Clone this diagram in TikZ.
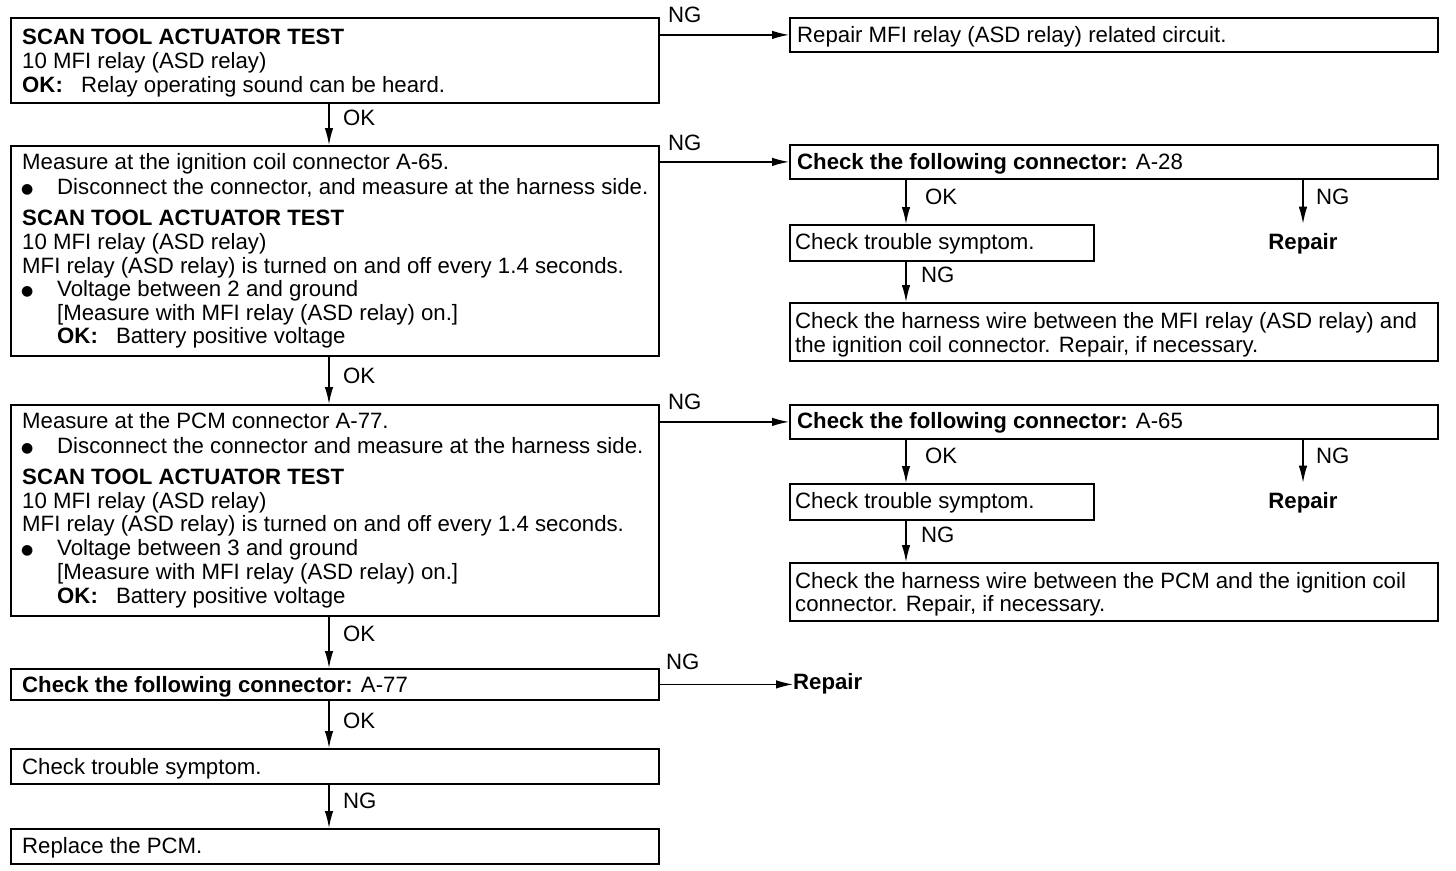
\documentclass[tikz,border=0pt]{standalone}
\usepackage{fontspec}
\setmainfont{Liberation Sans}
\newfontfamily\dvfont{DejaVu Sans}
\usetikzlibrary{arrows.meta}
\newcommand\TLine[4]{\node[txt] (#1) at (#2,#3) {#4};}
\newcommand\BLine[3]{\node[bul] (#1) at (21,#2) {●};}
\begin{document}
\begin{tikzpicture}[x=1pt,y=-1pt,
 box/.style={draw, line width=1.8pt, inner sep=0pt, anchor=north west},
 txt/.style={anchor=base west, inner sep=0pt, font=\fontsize{22.2}{24}\selectfont},
 bul/.style={anchor=base west, inner sep=0pt, font=\dvfont\fontsize{14}{16}\selectfont},
 lbl/.style={anchor=base west, inner sep=0pt, font=\fontsize{22.2}{24}\selectfont},
 rep/.style={anchor=base, inner xsep=0pt, inner ysep=9pt, font=\fontsize{22.2}{24}\selectfont\bfseries},
 arr/.style={line width=1.3pt, -{Latex[length=17pt,width=8.5pt]}},
]
\useasboundingbox (0,0) rectangle (1456,870);
\coordinate (cL) at (329,0);
\coordinate (cR1) at (906,0);
\coordinate (cR2) at (1303,0);

% left column boxes
\node[box, minimum width=648pt, minimum height=85pt] (b1) at (10,17) {};
\node[box, minimum width=648pt, minimum height=210pt] (b2) at (10,145) {};
\node[box, minimum width=648pt, minimum height=211pt] (b3) at (10,404) {};
\node[box, minimum width=648pt, minimum height=31pt] (b4) at (10,668) {};
\node[box, minimum width=648pt, minimum height=35pt] (b5) at (10,748) {};
\node[box, minimum width=648pt, minimum height=35pt] (b6) at (10,828) {};

% right column boxes
\node[box, minimum width=648pt, minimum height=34pt] (r1) at (789,17) {};
\node[box, minimum width=648pt, minimum height=34pt] (r2) at (789,144) {};
\node[box, minimum width=304pt, minimum height=36pt] (s1) at (789,224) {};
\node[box, minimum width=648pt, minimum height=58pt] (h1) at (789,302) {};
\node[box, minimum width=648pt, minimum height=34pt] (r3) at (789,404) {};
\node[box, minimum width=304pt, minimum height=36pt] (s2) at (789,483) {};
\node[box, minimum width=648pt, minimum height=58pt] (h2) at (789,562) {};

% box 1 text
\TLine{t1a}{22}{44}{\textbf{SCAN TOOL ACTUATOR TEST}}
\TLine{t1b}{22}{68}{10 MFI relay (ASD relay)}
\TLine{t1c}{22}{92}{\textbf{OK:}\hspace{12pt} Relay operating sound can be heard.}

% box 2 text
\TLine{t2a}{22}{169}{Measure at the ignition coil connector A-65.}
\BLine{u2a}{193}{}
\TLine{t2b}{57}{194}{Disconnect the connector, and measure at the harness side.}
\TLine{t2c}{22}{225}{\textbf{SCAN TOOL ACTUATOR TEST}}
\TLine{t2d}{22}{249}{10 MFI relay (ASD relay)}
\TLine{t2e}{22}{273}{MFI relay (ASD relay) is turned on and off every 1.4 seconds.}
\BLine{u2b}{295}{}
\TLine{t2f}{57}{296}{Voltage between 2 and ground}
\TLine{t2g}{57}{320}{[Measure with MFI relay (ASD relay) on.]}
\TLine{t2h}{57}{343}{\textbf{OK:}\hspace{12pt} Battery positive voltage}

% box 3 text
\TLine{t3a}{22}{428}{Measure at the PCM connector A-77.}
\BLine{u3a}{452}{}
\TLine{t3b}{57}{453}{Disconnect the connector and measure at the harness side.}
\TLine{t3c}{22}{484}{\textbf{SCAN TOOL ACTUATOR TEST}}
\TLine{t3d}{22}{508}{10 MFI relay (ASD relay)}
\TLine{t3e}{22}{531}{MFI relay (ASD relay) is turned on and off every 1.4 seconds.}
\BLine{u3b}{554}{}
\TLine{t3f}{57}{555}{Voltage between 3 and ground}
\TLine{t3g}{57}{579}{[Measure with MFI relay (ASD relay) on.]}
\TLine{t3h}{57}{603}{\textbf{OK:}\hspace{12pt} Battery positive voltage}

% boxes 4-6 text
\TLine{t4}{22}{692}{\textbf{Check the following connector:} A-77}
\TLine{t5}{22}{774}{Check trouble symptom.}
\TLine{t6}{22}{853}{Replace the PCM.}

% right texts
\TLine{tr1}{797}{42}{Repair MFI relay (ASD relay) related circuit.}
\TLine{tr2}{797}{169}{\textbf{Check the following connector:} A-28}
\TLine{ts1}{795}{249}{Check trouble symptom.}
\TLine{th1a}{795}{328}{Check the harness wire between the MFI relay (ASD relay) and}
\TLine{th1b}{795}{352}{the ignition coil connector. Repair, if necessary.}
\TLine{tr3}{797}{428}{\textbf{Check the following connector:} A-65}
\TLine{ts2}{795}{508}{Check trouble symptom.}
\TLine{th2a}{795}{588}{Check the harness wire between the PCM and the ignition coil}
\TLine{th2b}{795}{611}{connector. Repair, if necessary.}

% Repair nodes
\node[rep] (rep1) at (1303,249) {Repair};
\node[rep] (rep2) at (1303,508) {Repair};
\node[rep, anchor=base west, inner ysep=0pt] (rep3) at (793,689) {Repair};

% left vertical arrows
\draw[arr] (cL |- b1.south) -- (cL |- b2.north);
\draw[arr] (cL |- b2.south) -- (cL |- b3.north);
\draw[arr] (cL |- b3.south) -- (cL |- b4.north);
\draw[arr] (cL |- b4.south) -- (cL |- b5.north);
\draw[arr] (cL |- b5.south) -- (cL |- b6.north);
\node[lbl] (l1) at (343,125) {OK};
\node[lbl] (l2) at (343,383) {OK};
\node[lbl] (l3) at (343,641) {OK};
\node[lbl] (l4) at (343,728) {OK};
\node[lbl] (l5) at (343,808) {NG};

% horizontal NG arrows
\draw[arr] (b1.east |- r1.west) -- (r1.west);
\draw[arr] (b2.east |- r2.west) -- (r2.west);
\draw[arr] (b3.east |- r3.west) -- (r3.west);
\draw[arr] (b4.east) -- (b4.east -| rep3.west);
\node[lbl] (n1) at (668,23) {NG};
\node[lbl] (n2) at (668,150) {NG};
\node[lbl] (n3) at (668,409) {NG};
\node[lbl] (n4) at (666,669) {NG};

% right sub arrows
\draw[arr] (cR1 |- r2.south) -- (cR1 |- s1.north);
\draw[arr] (cR2 |- r2.south) -- (rep1.north);
\draw[arr] (cR1 |- s1.south) -- (cR1 |- h1.north);
\draw[arr] (cR1 |- r3.south) -- (cR1 |- s2.north);
\draw[arr] (cR2 |- r3.south) -- (rep2.north);
\draw[arr] (cR1 |- s2.south) -- (cR1 |- h2.north);
\node[lbl] (o1) at (925,204) {OK};
\node[lbl] (o2) at (1316,204) {NG};
\node[lbl] (o3) at (921,282) {NG};
\node[lbl] (o4) at (925,463) {OK};
\node[lbl] (o5) at (1316,463) {NG};
\node[lbl] (o6) at (921,542) {NG};
\end{tikzpicture}
\end{document}
